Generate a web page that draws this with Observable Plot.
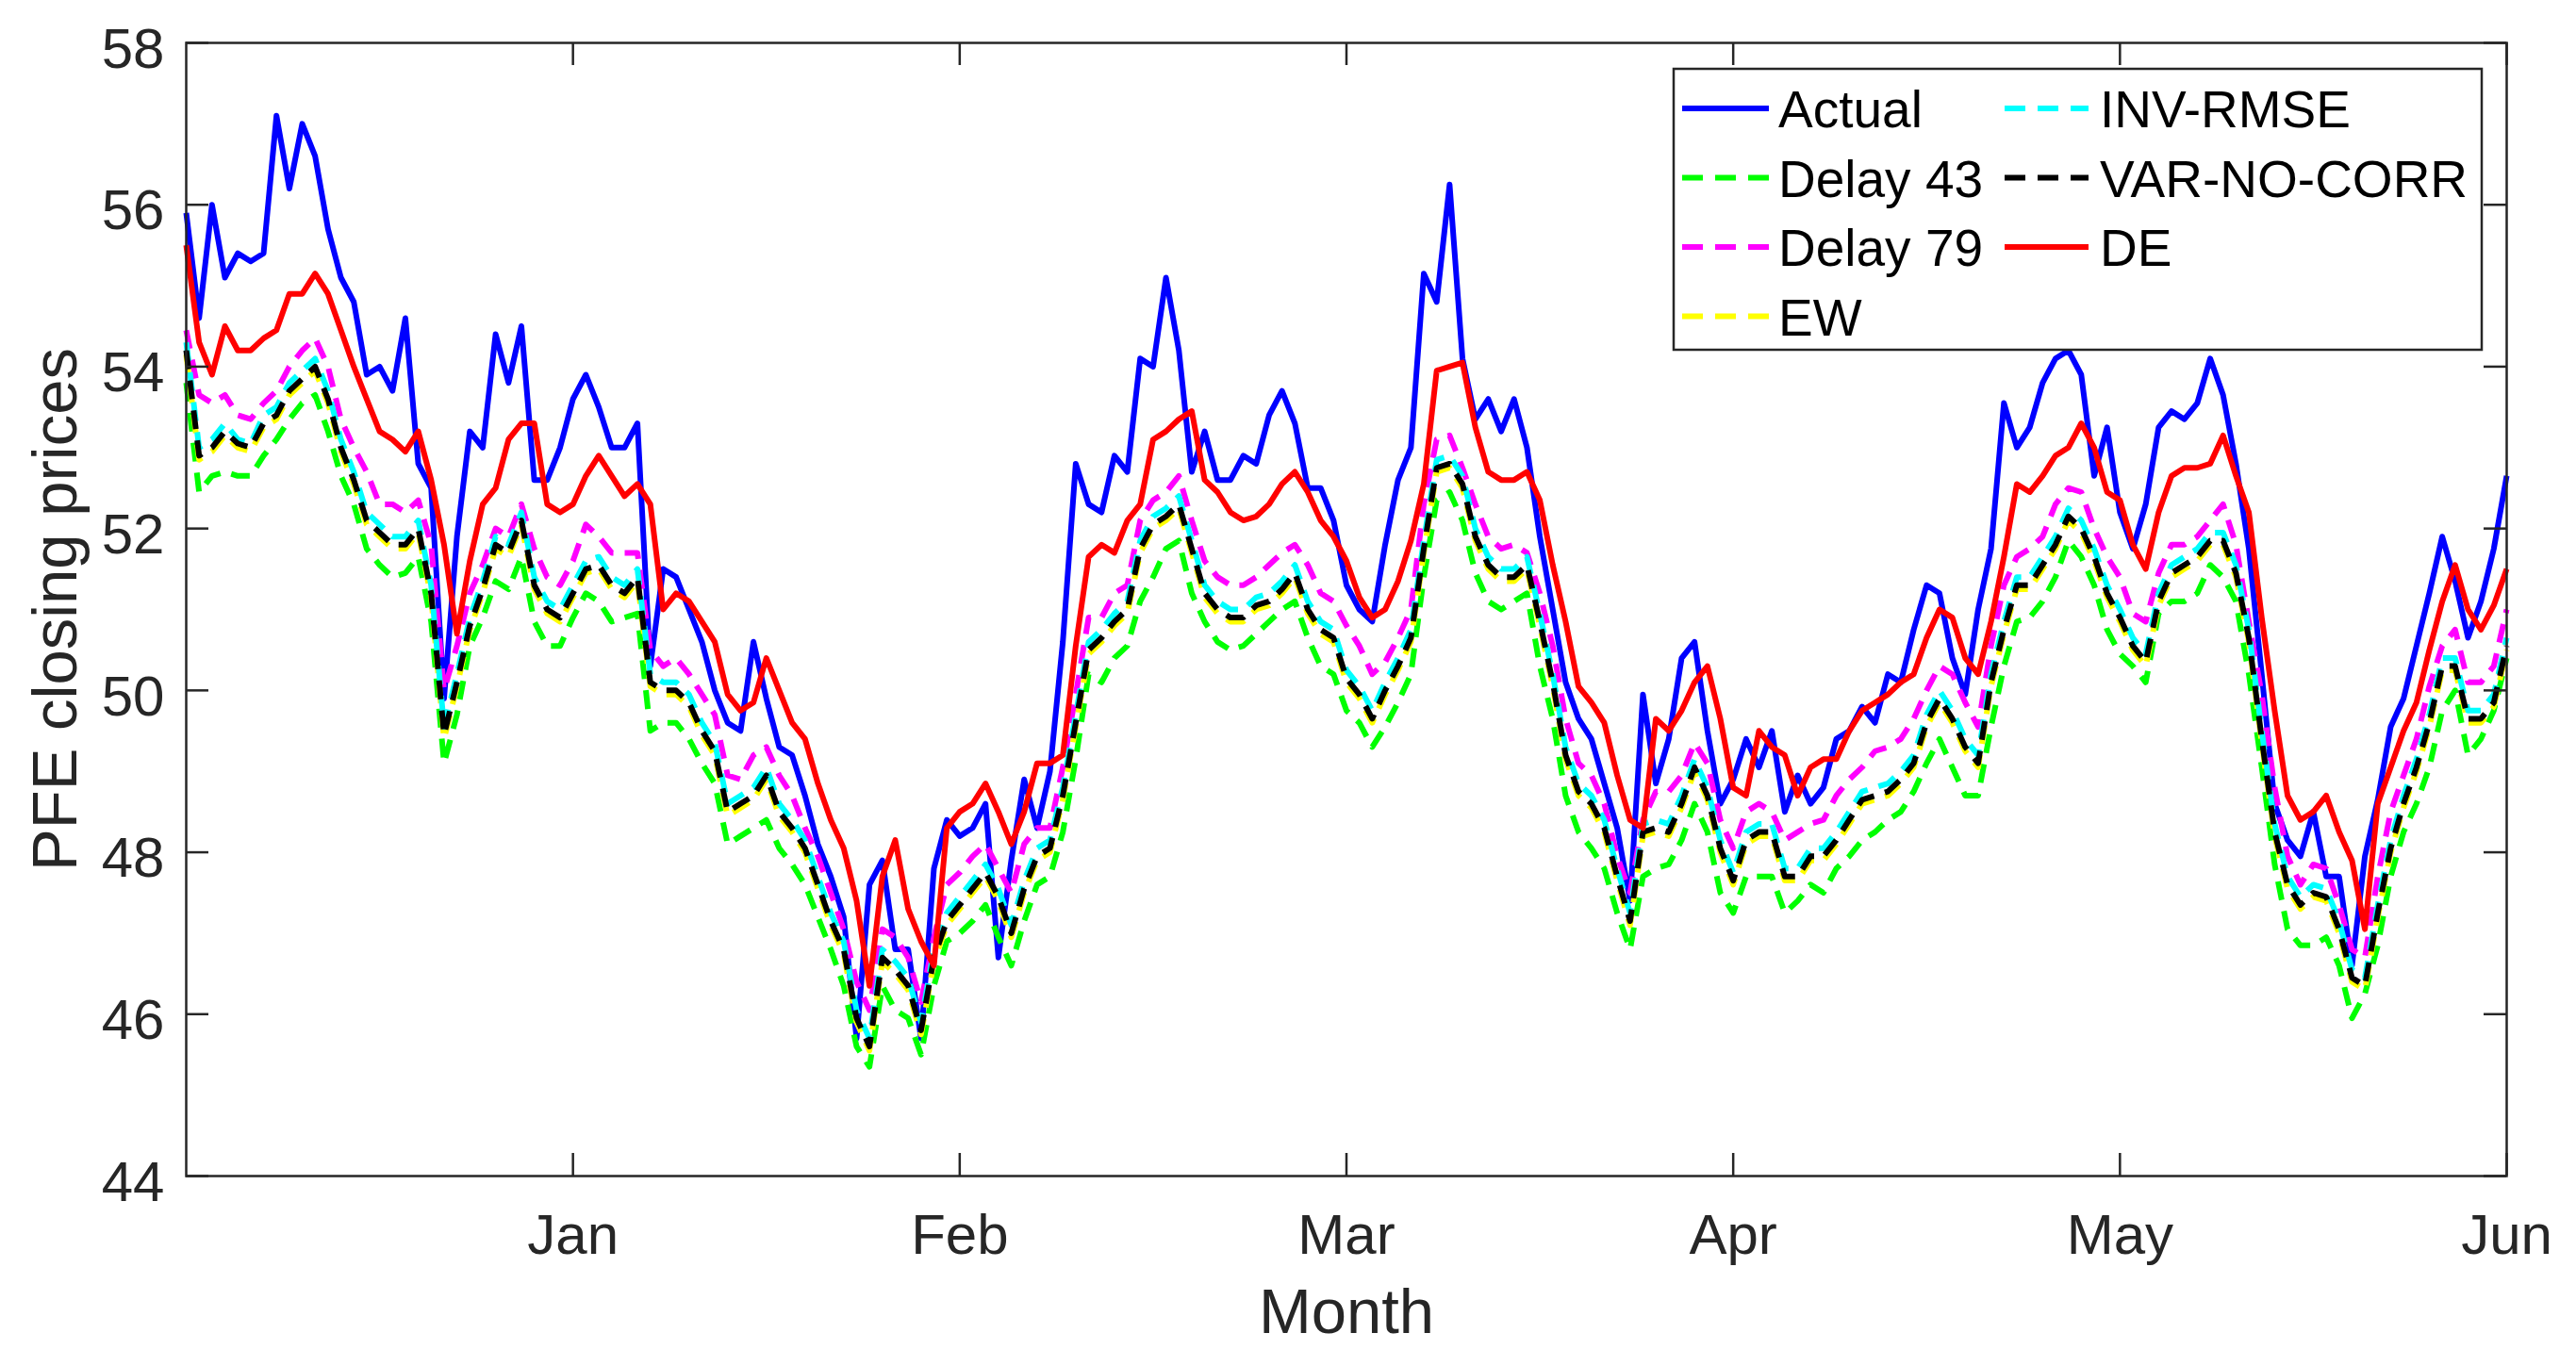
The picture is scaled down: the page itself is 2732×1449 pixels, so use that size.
<!DOCTYPE html>
<html><head><meta charset="utf-8">
<script src="https://cdn.jsdelivr.net/npm/d3@7"></script>
<script src="https://cdn.jsdelivr.net/npm/@observablehq/plot@0.6"></script>
<style>
html,body{margin:0;padding:0;background:#fff;}
#chart{width:2732px;height:1449px;overflow:hidden;}
</style></head><body><div id="chart"></div>
<script>
const monthTicks = [30, 60, 90, 120, 150, 180];
const monthLabels = ["Jan", "Feb", "Mar", "Apr", "May", "Jun"];
const priceTicks = [44, 46, 48, 50, 52, 54, 56, 58];
const seriesNames = ["Actual", "Delay 43", "Delay 79", "EW", "INV-RMSE", "VAR-NO-CORR", "DE"];
const seriesColors = ["#0000ff", "#00ff00", "#ff00ff", "#ffff00", "#00ffff", "#000000", "#ff0000"];
const seriesDashed = [false, true, true, true, true, true, false];

const actual = [55.9,54.6,56.0,55.1,55.4,55.3,55.4,57.1,56.2,57.0,56.6,55.7,55.1,54.8,53.9,54.0,53.7,54.6,52.8,52.5,49.9,51.9,53.2,53.0,54.4,53.8,54.5,52.6,52.6,53.0,
53.6,53.9,53.5,53.0,53.0,53.3,50.3,51.5,51.4,51.0,50.6,50.0,49.6,49.5,50.6,49.9,49.3,49.2,48.7,48.1,47.7,47.2,45.7,47.6,47.9,46.8,46.8,45.7,47.8,48.4,
48.2,48.3,48.6,46.7,47.9,48.9,48.3,49.0,50.6,52.8,52.3,52.2,52.9,52.7,54.1,54.0,55.1,54.2,52.7,53.2,52.6,52.6,52.9,52.8,53.4,53.7,53.3,52.5,52.5,52.1,
51.3,51.0,50.85,51.8,52.6,53.0,55.15,54.8,56.25,54.1,53.35,53.6,53.2,53.6,53.0,51.9,51.0,50.1,49.65,49.4,48.85,48.3,47.4,49.95,48.85,49.4,50.4,50.6,49.5,48.6,
48.9,49.4,49.05,49.5,48.5,48.95,48.6,48.8,49.4,49.5,49.8,49.6,50.2,50.1,50.75,51.3,51.2,50.4,49.95,51.0,51.75,53.55,53.0,53.25,53.8,54.1,54.2,53.9,52.65,53.25,
52.2,51.75,52.3,53.25,53.45,53.35,53.55,54.1,53.65,52.8,51.75,50.2,48.6,48.15,47.95,48.5,47.7,47.7,46.6,47.95,48.65,49.55,49.9,50.55,51.2,51.9,51.35,50.65,51.1,51.75,52.65];

const delay43 = [53.8,52.45,52.65,52.7,52.65,52.65,52.9,53.1,53.35,53.55,53.65,53.2,52.65,52.3,51.75,51.55,51.4,51.45,51.65,50.85,49.1,49.7,50.55,50.9,51.35,51.25,51.65,50.85,50.55,50.55,
50.9,51.2,51.1,50.85,50.9,50.95,49.5,49.6,49.6,49.4,49.1,48.85,48.1,48.2,48.3,48.4,48.05,47.85,47.6,47.2,46.8,46.35,45.6,45.35,46.35,46.05,45.95,45.5,46.35,46.9,
47.0,47.15,47.35,46.95,46.6,47.15,47.6,47.7,48.25,49.15,50.2,50.1,50.4,50.55,51.1,51.4,51.75,51.85,51.2,50.85,50.6,50.5,50.55,50.7,50.85,51.0,51.1,50.65,50.3,50.2,
49.75,49.6,49.3,49.55,49.85,50.2,51.4,52.35,52.45,52.1,51.45,51.1,51.0,51.1,51.2,50.3,49.65,48.7,48.25,48.05,47.8,47.25,46.8,47.7,47.8,47.85,48.15,48.6,48.25,47.5,
47.25,47.7,47.7,47.7,47.25,47.4,47.6,47.5,47.8,47.95,48.15,48.25,48.4,48.5,48.75,49.1,49.4,49.05,48.7,48.7,49.55,50.3,50.85,50.9,51.1,51.4,51.85,51.65,51.3,50.75,
50.45,50.3,50.1,50.95,51.1,51.1,51.2,51.55,51.4,51.1,50.2,49.05,47.85,47.05,46.85,46.85,46.95,46.6,45.95,46.25,46.85,47.7,48.25,48.6,49.05,49.75,50.0,49.2,49.4,49.75,50.4];

const delay79 = [54.45,53.65,53.55,53.65,53.4,53.35,53.55,53.7,54.0,54.2,54.35,54.0,53.35,53.0,52.7,52.3,52.3,52.2,52.35,51.8,50.0,50.55,51.2,51.55,52.0,51.9,52.3,51.75,51.4,51.3,
51.6,52.05,51.9,51.7,51.7,51.7,50.5,50.3,50.4,50.2,49.95,49.7,48.95,48.9,49.2,49.3,48.95,48.7,48.3,47.95,47.5,47.05,46.4,46.05,47.05,46.95,46.7,46.15,46.95,47.6,
47.75,47.95,48.1,47.8,47.5,48.1,48.3,48.3,49.05,49.95,50.9,50.9,51.2,51.3,52.1,52.35,52.45,52.65,52.1,51.6,51.4,51.3,51.3,51.4,51.55,51.7,51.8,51.55,51.2,51.1,
50.8,50.55,50.2,50.35,50.65,51.0,52.3,53.1,53.15,52.75,52.3,51.9,51.75,51.8,51.7,51.2,50.55,49.65,49.1,48.95,48.6,47.95,47.5,48.4,48.75,48.75,48.95,49.35,49.1,48.4,
48.05,48.5,48.6,48.5,48.15,48.25,48.35,48.4,48.7,48.9,49.05,49.25,49.3,49.4,49.65,50.0,50.3,50.2,49.85,49.55,50.55,51.3,51.65,51.75,51.9,52.3,52.5,52.45,52.0,51.65,
51.4,50.95,50.85,51.45,51.8,51.8,51.9,52.1,52.3,51.8,50.85,49.95,48.8,47.95,47.6,47.85,47.8,47.35,46.8,46.7,47.7,48.5,48.95,49.4,50.05,50.55,50.75,50.1,50.1,50.3,51.0];

const ew = [54.15,52.85,52.95,53.15,53.0,52.95,53.25,53.35,53.65,53.8,53.95,53.55,52.95,52.55,52.05,51.9,51.75,51.75,51.95,51.15,49.4,50.05,50.75,51.2,51.75,51.65,52.05,51.25,50.95,50.85,
51.15,51.45,51.5,51.25,51.15,51.35,50.05,49.95,49.95,49.8,49.45,49.2,48.45,48.55,48.65,48.9,48.45,48.25,48.0,47.55,47.1,46.75,45.9,45.55,46.65,46.5,46.3,45.75,46.65,47.1,
47.3,47.5,47.7,47.4,46.95,47.5,47.9,48.0,48.65,49.55,50.45,50.6,50.8,50.95,51.7,52.0,52.1,52.25,51.7,51.15,50.95,50.85,50.85,51.0,51.05,51.2,51.4,50.95,50.7,50.6,
50.1,49.9,49.6,49.95,50.25,50.6,51.7,52.7,52.75,52.5,51.85,51.5,51.35,51.35,51.5,50.8,50.05,49.15,48.7,48.55,48.25,47.65,47.1,48.2,48.25,48.2,48.55,49.0,48.65,48.0,
47.6,48.1,48.2,48.2,47.65,47.65,47.9,47.9,48.1,48.35,48.6,48.65,48.7,48.85,49.05,49.55,49.85,49.6,49.25,49.05,50.05,50.7,51.25,51.25,51.5,51.75,52.1,51.95,51.6,51.15,
50.85,50.5,50.3,51.05,51.4,51.5,51.6,51.8,51.8,51.4,50.6,49.35,48.2,47.55,47.3,47.45,47.4,47.0,46.4,46.3,47.2,48.0,48.55,49.0,49.55,50.25,50.25,49.6,49.6,49.8,50.5];

const invRmse = [54.3,53.0,53.1,53.3,53.1,53.05,53.4,53.5,53.8,53.95,54.1,53.7,53.1,52.7,52.2,52.05,51.9,51.9,52.1,51.3,49.55,50.2,50.9,51.35,51.9,51.8,52.2,51.4,51.1,51.0,
51.3,51.6,51.65,51.4,51.3,51.5,50.2,50.1,50.1,49.95,49.6,49.35,48.6,48.7,48.8,49.05,48.6,48.4,48.15,47.7,47.25,46.9,46.05,45.7,46.8,46.65,46.45,45.9,46.8,47.25,
47.45,47.65,47.85,47.55,47.1,47.65,48.05,48.15,48.8,49.7,50.6,50.75,50.95,51.1,51.85,52.15,52.25,52.4,51.85,51.3,51.1,51.0,51.0,51.15,51.2,51.35,51.55,51.1,50.85,50.75,
50.25,50.05,49.75,50.1,50.4,50.75,51.85,52.85,52.9,52.65,52.0,51.65,51.5,51.5,51.65,50.95,50.2,49.3,48.85,48.7,48.4,47.8,47.25,48.35,48.4,48.35,48.7,49.15,48.8,48.15,
47.75,48.25,48.35,48.35,47.8,47.8,48.05,48.05,48.25,48.5,48.75,48.8,48.85,49.0,49.2,49.7,50.0,49.75,49.4,49.2,50.2,50.85,51.4,51.4,51.65,51.9,52.25,52.1,51.75,51.3,
51.0,50.65,50.45,51.2,51.55,51.65,51.75,51.95,51.95,51.55,50.75,49.5,48.35,47.7,47.45,47.6,47.55,47.15,46.55,46.45,47.35,48.15,48.7,49.15,49.7,50.4,50.4,49.75,49.75,49.95,50.65];

const varNoCorr = [54.2,52.9,53.0,53.2,53.05,53.0,53.3,53.4,53.7,53.85,54.0,53.6,53.0,52.6,52.1,51.95,51.8,51.8,52.0,51.2,49.45,50.1,50.8,51.25,51.8,51.7,52.1,51.3,51.0,50.9,
51.2,51.5,51.55,51.3,51.2,51.4,50.1,50.0,50.0,49.85,49.5,49.25,48.5,48.6,48.7,48.95,48.5,48.3,48.05,47.6,47.15,46.8,45.95,45.6,46.7,46.55,46.35,45.8,46.7,47.15,
47.35,47.55,47.75,47.45,47.0,47.55,47.95,48.05,48.7,49.6,50.5,50.65,50.85,51.0,51.75,52.05,52.15,52.3,51.75,51.2,51.0,50.9,50.9,51.05,51.1,51.25,51.45,51.0,50.75,50.65,
50.15,49.95,49.65,50.0,50.3,50.65,51.75,52.75,52.8,52.55,51.9,51.55,51.4,51.4,51.55,50.85,50.1,49.2,48.75,48.6,48.3,47.7,47.15,48.25,48.3,48.25,48.6,49.05,48.7,48.05,
47.65,48.15,48.25,48.25,47.7,47.7,47.95,47.95,48.15,48.4,48.65,48.7,48.75,48.9,49.1,49.6,49.9,49.65,49.3,49.1,50.1,50.75,51.3,51.3,51.55,51.8,52.15,52.0,51.65,51.2,
50.9,50.55,50.35,51.1,51.45,51.55,51.65,51.85,51.85,51.45,50.65,49.4,48.25,47.6,47.35,47.5,47.45,47.05,46.45,46.35,47.25,48.05,48.6,49.05,49.6,50.3,50.3,49.65,49.65,49.85,50.55];

const de = [55.5,54.3,53.9,54.5,54.2,54.2,54.35,54.45,54.9,54.9,55.15,54.9,54.45,54.0,53.6,53.2,53.1,52.95,53.2,52.6,51.8,50.7,51.6,52.3,52.5,53.1,53.3,53.3,52.3,52.2,
52.3,52.65,52.9,52.65,52.4,52.55,52.3,51.0,51.2,51.1,50.85,50.6,49.95,49.75,49.85,50.4,50.0,49.6,49.4,48.85,48.4,48.05,47.4,46.35,47.7,48.15,47.3,46.9,46.6,48.3,
48.5,48.6,48.85,48.5,48.1,48.5,49.1,49.1,49.2,50.55,51.65,51.8,51.7,52.1,52.3,53.1,53.2,53.35,53.45,52.6,52.45,52.2,52.1,52.15,52.3,52.55,52.7,52.45,52.1,51.9,
51.6,51.15,50.9,51.0,51.35,51.85,52.55,53.95,54.0,54.05,53.25,52.7,52.6,52.6,52.7,52.35,51.55,50.85,50.05,49.85,49.6,48.95,48.4,48.3,49.65,49.5,49.75,50.1,50.3,49.65,
48.8,48.7,49.5,49.3,49.2,48.7,49.05,49.15,49.15,49.5,49.75,49.85,49.95,50.1,50.2,50.65,51.0,50.9,50.4,50.2,50.85,51.65,52.55,52.45,52.65,52.9,53.0,53.3,53.0,52.45,
52.35,51.8,51.5,52.2,52.65,52.75,52.75,52.8,53.15,52.65,52.2,50.9,49.75,48.7,48.4,48.5,48.7,48.25,47.9,47.05,48.6,49.05,49.5,49.85,50.5,51.1,51.55,51.0,50.75,51.05,51.5];

const seriesValues = [actual, delay43, delay79, ew, invRmse, varNoCorr, de];

const W = 2732, H = 1449, ML = 197, MR = 74, MT = 45, MB = 202;
const plotW = W - ML - MR, plotH = H - MT - MB;
const ink = "#262626";
const dash = "20,12";
const font = "'Liberation Sans', Arial, Helvetica, sans-serif";

const lineMarks = seriesValues.map((vals, s) =>
  Plot.line(vals.map((v, i) => ({i, v})), {
    x: "i", y: "v",
    stroke: seriesColors[s], strokeWidth: 6,
    strokeDasharray: seriesDashed[s] ? dash : null,
    strokeLinejoin: "round", strokeLinecap: "butt"
  })
);

const chart = Plot.plot({
  width: W, height: H,
  marginLeft: ML, marginRight: MR, marginTop: MT, marginBottom: MB,
  style: {fontFamily: font, background: "white", overflow: "visible"},
  x: {domain: [0, 180]},
  y: {domain: [44, 58]},
  marks: [
    ...lineMarks,
    Plot.frame({stroke: ink, strokeWidth: 2.5}),
    Plot.tickY(priceTicks, {y: d => d, insetRight: plotW - 24, stroke: ink, strokeWidth: 2.5}),
    Plot.tickY(priceTicks, {y: d => d, insetLeft: plotW - 24, stroke: ink, strokeWidth: 2.5}),
    Plot.tickX(monthTicks, {x: d => d, insetTop: plotH - 24, stroke: ink, strokeWidth: 2.5}),
    Plot.tickX(monthTicks, {x: d => d, insetBottom: plotH - 24, stroke: ink, strokeWidth: 2.5}),
    Plot.axisX({ticks: monthTicks, tickFormat: d => monthLabels[monthTicks.indexOf(d)], tickSize: 0, tickPadding: 40, fontSize: 60, fill: ink, label: null}),
    Plot.axisY({ticks: priceTicks, tickSize: 0, tickPadding: 23, fontSize: 60, fill: ink, label: null, dy: 7}),
    Plot.text(["Month"], {frameAnchor: "bottom", text: d => d, dy: 166, fontSize: 67, fill: ink, textAnchor: "middle"}),
    Plot.text(["PFE closing prices"], {frameAnchor: "left", text: d => d, rotate: -90, dx: -138, fontSize: 67, fill: ink, textAnchor: "middle"})
  ]
});
document.getElementById("chart").appendChild(chart);

// legend (MATLAB-style box, column-major order)
const svg = d3.select(chart);
const lg = svg.append("g").attr("font-family", font).attr("text-anchor", "start");
lg.append("rect").attr("x", 1775).attr("y", 73).attr("width", 857).attr("height", 298)
  .attr("fill", "white").attr("stroke", ink).attr("stroke-width", 2.5);
const colX = [[1784, 1876, 1886], [2126, 2215, 2227]];
seriesNames.forEach((name, s) => {
  const col = s < 4 ? 0 : 1;
  const row = s < 4 ? s : s - 4;
  const cy = 115 + row * 73.5;
  const [x1, x2, tx] = colX[col];
  lg.append("line").attr("x1", x1).attr("x2", x2).attr("y1", cy).attr("y2", cy)
    .attr("stroke", seriesColors[s]).attr("stroke-width", 6)
    .attr("stroke-dasharray", seriesDashed[s] ? "22,13" : null);
  lg.append("text").attr("x", tx).attr("y", cy + 20).attr("font-size", 55)
    .attr("text-anchor", "start").attr("fill", "#000").text(name);
});
</script></body></html>
